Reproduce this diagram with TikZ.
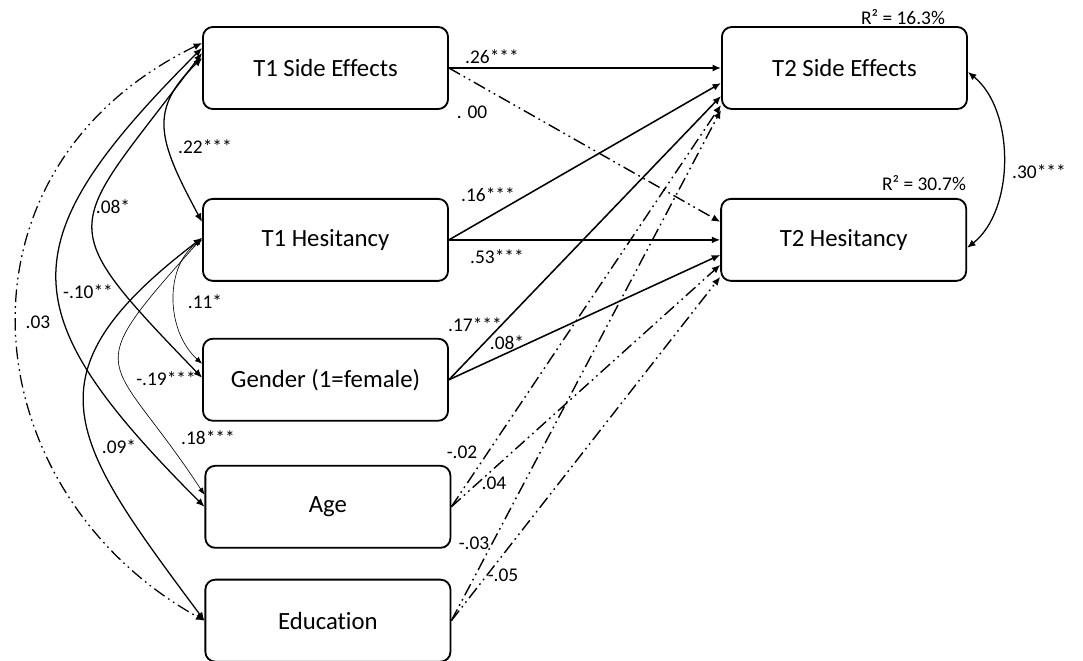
\documentclass[tikz,border=0pt]{standalone}
\usepackage{fontspec}
\setmainfont{Carlito}[Ligatures=NoCommon]
\usepackage{tikz}
\usetikzlibrary{arrows.meta,positioning}

\begin{document}
\begin{tikzpicture}[x=0.025cm,y=-0.025cm,
  var/.style={draw,line width=1.3pt,rounded corners=7pt,
              minimum width=6.125cm,minimum height=2.05cm,align=center,
              font=\fontsize{17.6}{20}\selectfont},
  lab/.style={inner sep=0pt,font=\fontsize{13.8}{16}\selectfont},
  arr/.style={-{Latex[length=6pt,width=5pt]},line width=1.1pt},
  dda/.style={arr,line width=1pt,
              dash pattern=on 9pt off 3pt on 1.2pt off 3pt on 1.2pt off 3pt},
  cov/.style={{Latex[length=6pt,width=5pt]}-{Latex[length=6pt,width=5pt]},
              line width=0.9pt},
  covd/.style={cov,dash pattern=on 9pt off 3pt on 1.2pt off 3pt on 1.2pt off 3pt},
  tcov/.style={{Latex[length=5pt,width=4pt]}-{Latex[length=5pt,width=4pt]},
               line width=0.45pt}
]
\useasboundingbox (0,0) rectangle (1083,660);

% variables
\node[var] (t1se) at (325.5,68) {T1 Side Effects};
\node[var,below=2.2cm of t1se] (t1h) {T1 Hesitancy};
\node[var,below=1.4cm of t1h] (gen) {Gender (1=female)};
\node[var,below=1.08cm of gen,xshift=0.06cm] (age) {Age};
\node[var,below=0.75cm of age] (edu) {Education};
\node[var,right=6.8cm of t1se] (t2se) {T2 Side Effects};
\node[var,right=6.78cm of t1h] (t2h) {T2 Hesitancy};

% paths
\draw[arr] (t1se.east) -- (t2se.west);
\draw[dda] (t1se.east) -- ([yshift=0.45cm]t2h.west);
\draw[arr] (t1h.east) -- ([yshift=-0.375cm]t2se.west);
\draw[arr] (t1h.east) -- (t2h.west);
\draw[arr] (gen.east) -- ([yshift=-0.7cm]t2se.west);
\draw[arr] (gen.east) -- ([yshift=-0.375cm]t2h.west);
\draw[dda] (age.east) -- ([yshift=-0.925cm]t2se.west);
\draw[dda] (age.east) -- ([yshift=-0.625cm]t2h.west);
\draw[dda] (edu.east) -- ([yshift=-1.05cm]t2se.west);
\draw[dda] (edu.east) -- ([yshift=-0.925cm]t2h.west);

% covariances
\draw[cov] ([yshift=0.25cm]t1se.west) .. controls (148,110) and (158,140) .. ([yshift=0.45cm]t1h.west);
\draw[cov] ([yshift=0.375cm]t1se.west) .. controls (68,233) and (46,216) .. ([yshift=0.05cm]gen.west);
\draw[cov] ([yshift=0.5cm]t1se.west) .. controls (7,243) and (10,312) .. (age.west);
\draw[covd] ([yshift=0.625cm]t1se.west) .. controls (-60,170) and (-30,490) .. (edu.west);
\draw[tcov] (t1h.west) .. controls (165,265) and (165,330) .. ([yshift=0.4cm]gen.west);
\draw[tcov] ([yshift=0.05cm]t1h.west) .. controls (75,380) and (109,349) .. ([yshift=0.3cm]age.west);
\draw[cov] ([yshift=0.05cm]t1h.west) .. controls (22,375) and (70,440) .. (edu.west);
\draw[cov] ([yshift=-0.1cm]t2se.east) .. controls (1015,110) and (1015,210) .. ([yshift=-0.2cm]t2h.east);

% estimates
\node[lab] (b1) at (492,57) {.26***};
\node[lab] (b2) at (472,112) {. 00};
\node[lab] (b3) at (488,195) {.16***};
\node[lab] (b4) at (497,257) {.53***};
\node[lab] (b5) at (475,325) {.17***};
\node[lab] (b6) at (507,343) {.08*};
\node[lab] (b7) at (462,452) {-.02};
\node[lab] (b8) at (494,483) {.04};
\node[lab] (b9) at (474,543) {-.03};
\node[lab] (b10) at (503,575) {-.05};
\node[lab] (c1) at (205,147) {.22***};
\node[lab] (c2) at (113,207) {.08*};
\node[lab] (c3) at (88,292) {-.10**};
\node[lab] (c4) at (38,322) {.03};
\node[lab] (c5) at (205,302) {.11*};
\node[lab] (c6) at (166,379) {-.19***};
\node[lab] (c7) at (208,438) {.18***};
\node[lab] (c8) at (119,447) {.09*};
\node[lab] (c9) at (1039,172) {.30***};
\node[lab] (r1) at (903,17) {R² = 16.3\%};
\node[lab] (r2) at (924,183) {R² = 30.7\%};
\end{tikzpicture}
\end{document}
